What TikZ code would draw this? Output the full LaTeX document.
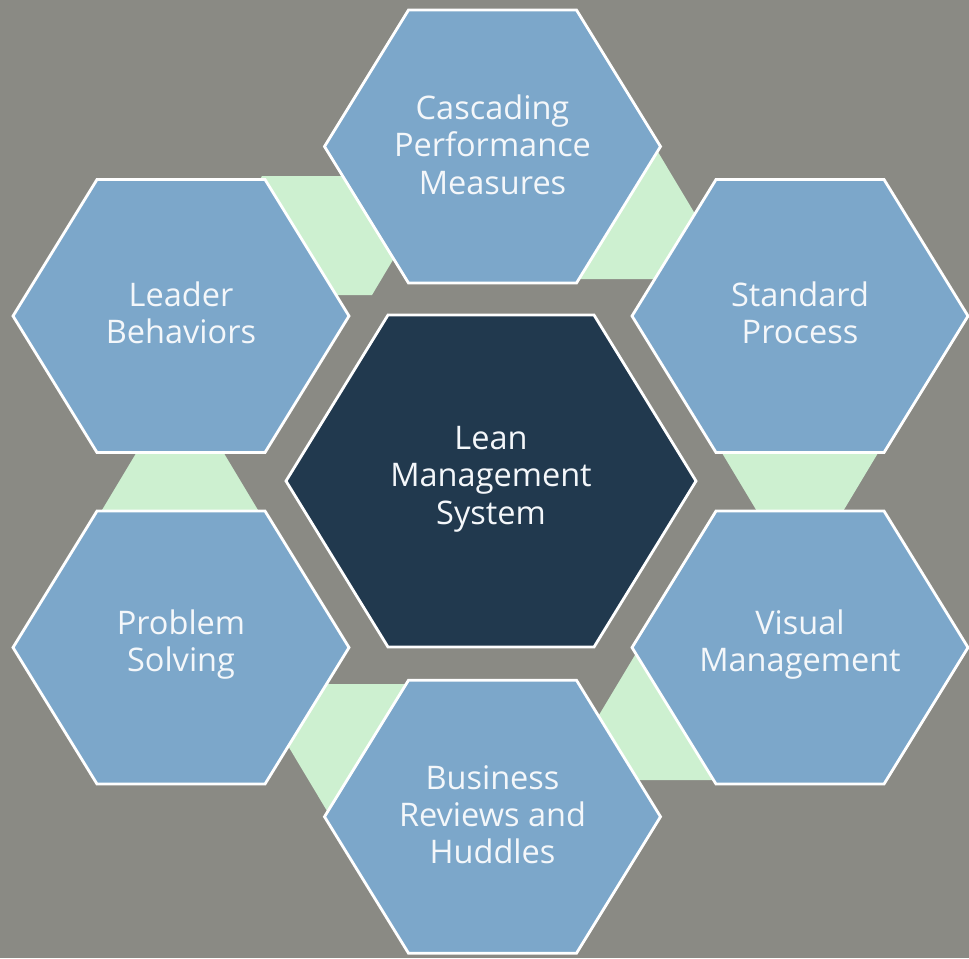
\documentclass[tikz,border=0pt]{standalone}
\usepackage{fontspec}
\setmainfont{Open Sans}
\usetikzlibrary{calc}

\definecolor{bggray}{RGB}{138,138,132}
\definecolor{hexblue}{RGB}{124,167,202}
\definecolor{hexnavy}{RGB}{33,57,78}
\definecolor{linkgreen}{RGB}{205,240,208}
\definecolor{labelwhite}{RGB}{244,247,250}

\begin{document}
\begin{tikzpicture}[
        x = 0.02cm,
        y = -0.02cm,
        hexa/.style = {
            fill = hexblue,
            draw = white,
            line width = 1.6pt
        },
        core/.style = {hexa, fill = hexnavy},
        link/.style = {fill = linkgreen},
        txt/.style = {
            text = labelwhite,
            align = center,
            inner sep = 0pt,
            font = \fontsize{18.5}{21.3}\selectfont
        }
        ]
%
        \useasboundingbox (0,0) rectangle (969,958);
        \fill[bggray] (0,0) rectangle (969,958);
%
        \coordinate (lean) at (491,481);
        \coordinate (casc) at (492.5,146.5);
        \coordinate (lead) at (181,316);
        \coordinate (stan) at (800,316);
        \coordinate (prob) at (181,647.5);
        \coordinate (visu) at (800,647.5);
        \coordinate (busi) at (492.5,816.7);
%
% green links, partly under the hexagons
        \fill[link] (200,295) -- (262,176) -- (443,176) -- (372,295) -- cycle;
        \fill[link] (560,122) -- (640,122) -- (734,279) -- (560,279) -- cycle;
        \fill[link] (156,420) -- (204,420) -- (276,540) -- (84,540) -- cycle;
        \fill[link] (704,423) -- (896,423) -- (824,543) -- (776,543) -- cycle;
        \fill[link] (692,560) -- (770,560) -- (750,780) -- (600,780) -- (578,750) -- cycle;
        \fill[link] (251,684) -- (425,684) -- (425,841) -- (345,841) -- cycle;
%
        \foreach \c in {casc,lead,stan,prob,visu,busi}
            \draw[hexa] ($(\c)+(-168,0)$) -- ++(84,-136.5) -- ++(168,0) -- ++(84,136.5)
                        -- ++(-84,136.5) -- ++(-168,0) -- cycle;
        \draw[core] ($(lean)+(-205,0)$) -- ++(102,-166) -- ++(206,0) -- ++(102,166)
                    -- ++(-102,166) -- ++(-206,0) -- cycle;
%
        \node[txt] (t-lean) at ($(lean)+(0,-2)$) {Lean\\Management\\System};
        \node[txt] (t-casc) at ($(casc)+(0,-2)$) {Cascading\\Performance\\Measures};
        \node[txt] (t-lead) at ($(lead)+(0,-3)$) {Leader\\Behaviors};
        \node[txt] (t-stan) at ($(stan)+(0,-3)$) {Standard\\Process};
        \node[txt] (t-prob) at ($(prob)+(0,-3)$) {Problem\\Solving};
        \node[txt] (t-visu) at ($(visu)+(0,-3)$) {Visual\\Management};
        \node[txt] (t-busi) at ($(busi)+(0,-2)$) {Business\\Reviews and\\Huddles};
%
\end{tikzpicture}
\end{document}
